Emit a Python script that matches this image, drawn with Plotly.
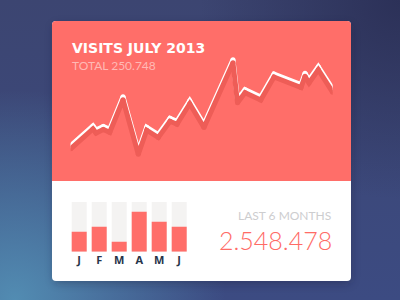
import base64
import plotly.graph_objects as go

W, H = 400, 300

# ---- data -------------------------------------------------------------
# Daily visits, July 2013 (x = day of month, read off the sparkline)
line_days = [1.0, 3.55, 3.9, 4.73, 5.47, 6.99, 8.74, 9.70, 11.03, 12.37, 13.17, 14.63,
             16.26, 19.58, 20.10, 20.96, 22.76, 24.28, 27.37, 27.83, 28.29, 29.35, 31.0]
line_visits = [2420, 4400, 4000, 4360, 4070, 7330, 1880, 4280, 3550, 5170, 4880, 6930,
               4550, 11030, 7030, 8030, 7300, 9600, 8550, 9670, 9000, 10330, 8070]
JULY_TOTAL = 250748

months = ["Jan", "Feb", "Mar", "Apr", "May", "Jun"]
month_labels = ["J", "F", "M", "A", "M", "J"]
month_visits = [339812, 424660, 169930, 679508, 509723, 424845]
month_cap = [850000] * 6

title_text = "VISITS JULY 2013"
subtitle_prefix = "TOTAL"
last_label = "LAST 6 MONTHS"


def fmt(n):
    return f"{n:,}".replace(",", ".")


# ---- helpers (layout only) -------------------------------------------
def P(px, py):
    return f"{px / W:.5f},{1 - py / H:.5f}"


def rrect(x0, y0, x1, y1, rt, rb):
    return (f"M {P(x0 + rt, y0)} L {P(x1 - rt, y0)} Q {P(x1, y0)} {P(x1, y0 + rt)} "
            f"L {P(x1, y1 - rb)} Q {P(x1, y1)} {P(x1 - rb, y1)} "
            f"L {P(x0 + rb, y1)} Q {P(x0, y1)} {P(x0, y1 - rb)} "
            f"L {P(x0, y0 + rt)} Q {P(x0, y0)} {P(x0 + rt, y0)} Z")


RED = "#ff6e69"
SHADOW = "#ee5d57"

bg_svg = """<svg xmlns="http://www.w3.org/2000/svg" width="400" height="300" viewBox="0 0 400 300">
<defs>
<linearGradient id="g" x1="0" y1="0" x2="0" y2="1">
<stop offset="0" stop-color="#3c4571"/>
<stop offset="1" stop-color="#3c4b82"/>
</linearGradient>
<radialGradient id="glow" gradientUnits="userSpaceOnUse" cx="15" cy="300" r="210">
<stop offset="0" stop-color="#528cb2" stop-opacity="1"/>
<stop offset="1" stop-color="#528cb2" stop-opacity="0"/>
</radialGradient>
<radialGradient id="dark" gradientUnits="userSpaceOnUse" cx="400" cy="0" r="200">
<stop offset="0" stop-color="#2c3158" stop-opacity="1"/>
<stop offset="1" stop-color="#2c3158" stop-opacity="0"/>
</radialGradient>
<filter id="b" x="-20%" y="-20%" width="140%" height="140%"><feGaussianBlur stdDeviation="5"/></filter>
</defs>
<rect width="400" height="300" fill="url(#g)"/>
<rect width="400" height="300" fill="url(#glow)"/>
<rect width="400" height="300" fill="url(#dark)"/>
<rect x="54" y="25" width="297" height="258" rx="4" fill="#141830" opacity="0.35" filter="url(#b)"/>
</svg>"""
bg_uri = "data:image/svg+xml;base64," + base64.b64encode(bg_svg.encode()).decode()

fig = go.Figure()

LW = 5
# line shadow
fig.add_trace(go.Scatter(x=line_days, y=line_visits, mode="lines+markers",
                         line=dict(color=SHADOW, width=LW),
                         marker=dict(color=SHADOW, size=LW),
                         xaxis="x2", yaxis="y2", hoverinfo="skip"))
# main line
fig.add_trace(go.Scatter(x=line_days, y=line_visits, mode="lines+markers",
                         line=dict(color="white", width=LW),
                         marker=dict(color="white", size=LW),
                         xaxis="x", yaxis="y", hoverinfo="skip"))
# bar tracks
fig.add_trace(go.Bar(x=months, y=month_cap, width=0.75, marker=dict(color="#f4f3f2", line_width=0),
                     xaxis="x3", yaxis="y3", hoverinfo="skip"))
# bar values
fig.add_trace(go.Bar(x=months, y=month_visits, width=0.75,
                     marker=dict(color=RED, line_width=0, cornerradius=3),
                     xaxis="x3", yaxis="y3", hoverinfo="skip"))

hidden = dict(visible=False, showgrid=False, zeroline=False, fixedrange=True)
xdom = [70.7 / W, 332.7 / W]
ydom = [1 - 170 / H, 1 - 30 / H]
sh = 3 / H

fig.update_layout(
    width=W, height=H, margin=dict(l=0, r=0, t=0, b=0),
    paper_bgcolor="#3a4470", plot_bgcolor="rgba(0,0,0,0)",
    showlegend=False, barmode="overlay",
    xaxis=dict(domain=xdom, range=[1, 31], **hidden),
    yaxis=dict(domain=ydom, range=[0, 14000], **hidden),
    xaxis2=dict(domain=xdom, range=[1, 31], anchor="y2", **hidden),
    yaxis2=dict(domain=[ydom[0] - sh, ydom[1] - sh], range=[0, 14000], anchor="x2", **hidden),
    xaxis3=dict(domain=[69.2 / W, 189.2 / W], range=[-0.5, 5.5], anchor="y3",
                type="category", categoryorder="array", categoryarray=months,
                tickvals=months, ticktext=month_labels, showgrid=False, zeroline=False,
                showline=False, ticks="", fixedrange=True,
                tickfont=dict(family="Open Sans", size=11, color="#26344a", weight="bold")),
    yaxis3=dict(domain=[1 - 251.7 / H, 1 - 201.7 / H], range=[0, 850000], anchor="x3", **hidden),
    images=[dict(source=bg_uri, xref="paper", yref="paper", x=0, y=1, sizex=1, sizey=1,
                 sizing="stretch", layer="below", xanchor="left", yanchor="top")],
    shapes=[
        dict(type="path", path=rrect(52, 21, 351, 281, 4, 4), xref="paper", yref="paper",
             fillcolor="white", line_width=0, layer="below"),
        dict(type="path", path=rrect(52, 21, 351, 181, 4, 0), xref="paper", yref="paper",
             fillcolor=RED, line_width=0, layer="below"),
    ],
    annotations=[
        dict(text=title_text, x=70 / W, y=1 - 47.5 / H, xref="paper", yref="paper",
             xanchor="left", yanchor="middle", showarrow=False,
             font=dict(family="DejaVu Sans", size=14, color="white", weight="bold")),
        dict(text=f"{subtitle_prefix} {fmt(JULY_TOTAL)}", x=70 / W, y=1 - 65 / H,
             xref="paper", yref="paper", xanchor="left", yanchor="middle", showarrow=False,
             font=dict(family="Lato", size=12, color="#ffb9b5")),
        dict(text=last_label, x=333 / W, y=1 - 215.5 / H, xref="paper", yref="paper",
             xanchor="right", yanchor="middle", showarrow=False,
             font=dict(family="Lato", size=12, color="#cdcdcf")),
        dict(text=fmt(sum(month_visits)), x=334 / W, y=1 - 239.5 / H, xref="paper",
             yref="paper", xanchor="right", yanchor="middle", showarrow=False,
             font=dict(family="Lato", size=25, color="#ff6b66", weight=300)),
    ],
)

fig.write_html("out.html")
